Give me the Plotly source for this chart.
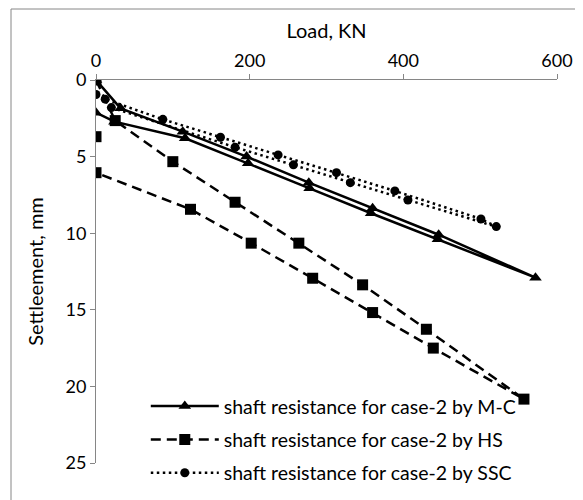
import plotly.graph_objects as go

# Load (KN) / settlement (mm) values
mc_load = [0, 32, 113, 196, 277, 360, 446, 572, 445, 358, 278, 198, 116, 24, 0]
mc_settle = [0, 1.85, 3.37, 5.0, 6.7, 8.37, 10.1, 12.9, 10.4, 8.7, 7.07, 5.43, 3.8, 2.72, 2.13]

hs_load = [0, 25, 100, 181, 264, 347, 430, 557, 439, 360, 282, 202, 123, 0, None, 0]
hs_settle = [0, 2.65, 5.33, 7.98, 10.65, 13.37, 16.27, 20.83, 17.5, 15.18, 12.94, 10.65, 8.44, 6.05, None, 3.7]

ssc_load = [0, 12, 87, 162, 237, 313, 389, 501, 521, 406, 331, 257, 181, 20]
ssc_settle = [0.95, 1.25, 2.57, 3.74, 4.89, 6.05, 7.24, 9.07, 9.57, 7.83, 6.7, 5.54, 4.39, 1.8]

series_names = [
    "shaft resistance for case-2 by M-C",
    "shaft resistance for case-2 by HS",
    "shaft resistance for case-2 by SSC",
]
x_ticks = [0, 200, 400, 600]
y_ticks = [0, 5, 10, 15, 20, 25]

FONT = "Lato"

fig = go.Figure()
fig.add_trace(go.Scatter(
    x=mc_load, y=mc_settle, name=series_names[0], mode="lines+markers",
    line=dict(color="black", width=2.5),
    marker=dict(symbol="triangle-up", size=11, color="black"),
    legendgroup="a", connectgaps=False))
fig.add_trace(go.Scatter(
    x=hs_load, y=hs_settle, name=series_names[1], mode="lines+markers",
    line=dict(color="black", width=2.5, dash="10px,6px"),
    marker=dict(symbol="square", size=11, color="black"),
    legendgroup="b", connectgaps=False))
fig.add_trace(go.Scatter(
    x=ssc_load, y=ssc_settle, name=series_names[2], mode="lines+markers",
    line=dict(color="black", width=2.5, dash="2.5px,3.5px"),
    marker=dict(symbol="circle", size=9, color="black"),
    legendgroup="c", connectgaps=False))

axis_common = dict(
    showgrid=False, zeroline=False, showline=True, linecolor="#868686", linewidth=1,
    ticks="outside", ticklen=5, tickcolor="#868686", tickwidth=1,
    tickfont=dict(family=FONT, size=18, color="black"),
)

fig.update_layout(
    width=575, height=497,
    margin=dict(l=88, r=26, t=72, b=42),
    paper_bgcolor="white", plot_bgcolor="white",
    font=dict(family=FONT, color="black"),
    xaxis=dict(
        side="top", range=[0, 600], tickvals=x_ticks, ticktext=[str(v) for v in x_ticks],
        title=dict(text="Load, KN", font=dict(family=FONT, size=20, color="black"), standoff=4),
        automargin=False, **axis_common),
    yaxis=dict(
        range=[25, 0], tickvals=y_ticks, ticktext=[str(v) for v in y_ticks],
        title=dict(text="Settleement, mm", font=dict(family=FONT, size=20, color="black"), standoff=16),
        automargin=False, **axis_common),
    legend=dict(
        x=0.108, y=-0.078, xanchor="left", yanchor="bottom",
        bgcolor="rgba(0,0,0,0)", font=dict(family=FONT, size=19.5, color="black"),
        itemwidth=68, traceorder="grouped", tracegroupgap=5,
    ),
    shapes=[dict(type="rect", xref="paper", yref="paper",
                 x0=-85 / 461, x1=1.1, y0=-0.2, y1=1 + 71 / 383,
                 line=dict(color="#868686", width=1), layer="below")],
)

fig.write_html("out.html")
